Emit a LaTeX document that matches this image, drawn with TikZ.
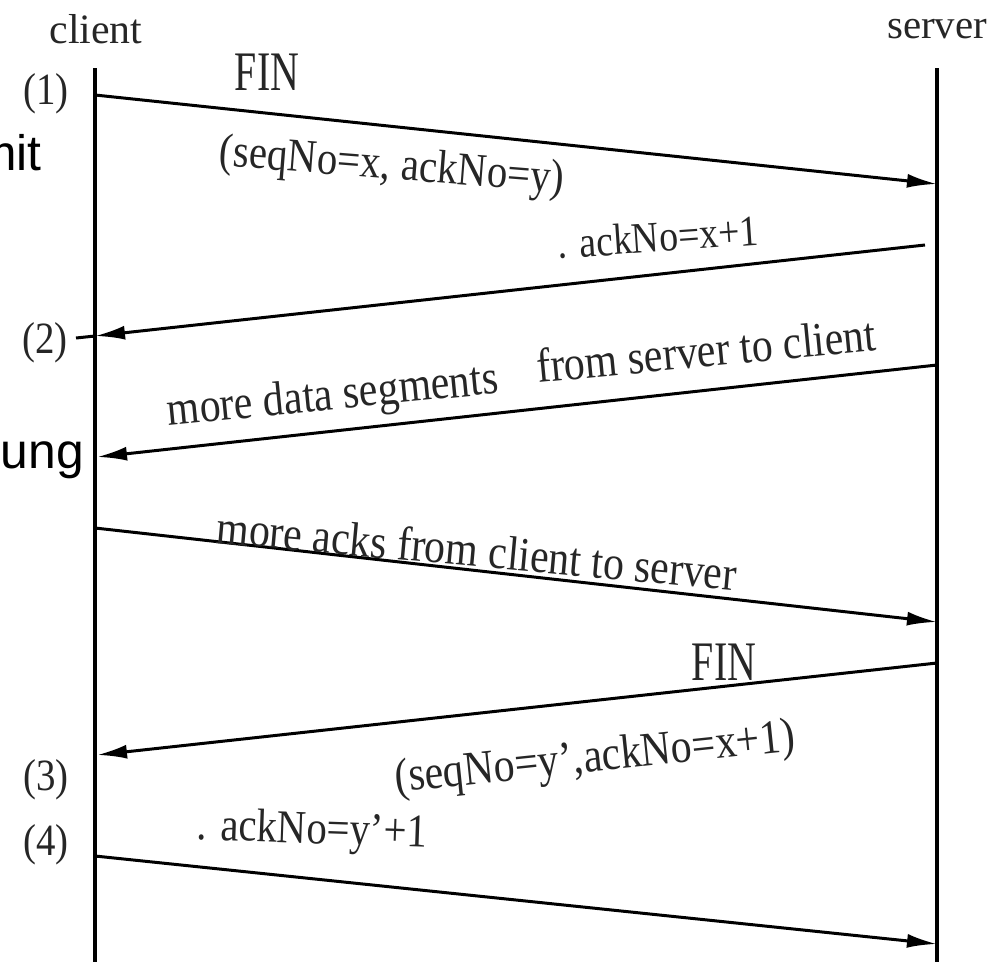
\documentclass[tikz,border=0pt]{standalone}
\usepackage{fontspec}
\setmainfont{Liberation Serif}
\newfontfamily\arialf{Liberation Sans}
\usetikzlibrary{arrows.meta}
\newcommand{\fsz}[1]{\fontsize{#1}{#1}\selectfont}
\newcommand{\vst}[2]{\scalebox{1}[#1]{#2}}
\begin{document}
\begin{tikzpicture}[x=1bp,y=-1bp,
  msg/.style={line width=3bp,-{Latex[length=30bp,width=14bp]}},
  life/.style={line width=3.5bp},
  lab/.style={inner sep=0pt,text=black!85},
  side/.style={inner sep=0pt,text=black,font=\arialf\fsz{50}}]
\useasboundingbox (0,0) rectangle (993,962);
\clip (0,0) rectangle (993,962);
% lifelines
\coordinate (ctop) at (95,68);
\coordinate (cbot) at (95,962);
\coordinate (stop) at (937,68);
\coordinate (sbot) at (937,962);
\draw[life] (ctop) -- (cbot);
\draw[life] (stop) -- (sbot);
% headers
\node[lab,font=\fsz{42}] (client) at (96,29) {client};
\node[lab,font=\fsz{41}] (server) at (937,29) {server};
% step numbers
\node[lab,font=\fsz{39}] (n1) at (46,94) {\vst{1.15}{(1)}};
\node[lab,font=\fsz{39}] (n2) at (45,343) {\vst{1.15}{(2)}};
\node[lab,font=\fsz{39}] (n3) at (46,780) {\vst{1.15}{(3)}};
\node[lab,font=\fsz{39}] (n4) at (46,845) {\vst{1.15}{(4)}};
% cut-off slide text
\node[side,anchor=base east] (mit) at (42,170) {mit};
\node[side,anchor=base east] (ung) at (84,468) {ung};
% message end points
\coordinate (a1s) at (95,95);   \coordinate (a1e) at (937,184);
\coordinate (a2s) at (925,245); \coordinate (a2e) at (95,336);
\coordinate (a2x) at (76,338);
\coordinate (a3s) at (937,365); \coordinate (a3e) at (97,457);
\coordinate (a4s) at (95,528);  \coordinate (a4e) at (937,622);
\coordinate (a5s) at (937,663); \coordinate (a5e) at (97,755);
\coordinate (a6s) at (95,856);  \coordinate (a6e) at (937,944);
\draw[msg] (a1s) -- (a1e);
\draw[msg] (a2s) -- (a2e);
\draw[line width=3bp] (a2e) -- (a2x);
\draw[msg] (a3s) -- (a3e);
\draw[msg] (a4s) -- (a4e);
\draw[msg] (a5s) -- (a5e);
\draw[msg] (a6s) -- (a6e);
% labels
\node[lab,font=\fsz{40}] (fin1) at (267,72) {\vst{1.4}{FIN}};
\node[lab,font=\fsz{41},rotate=-4.5] (seq1) at (392,168) {\vst{1.15}{(seqNo=x, ackNo=y)}};
\node[lab,font=\fsz{38},rotate=4] (ackx) at (658,237) {\vst{1.15}{. ackNo=x+1}};
\node[lab,font=\fsz{42},rotate=5.6] (mds) at (333,398) {\vst{1.15}{more data segments}};
\node[lab,font=\fsz{42},rotate=5.5] (fsc) at (706,350) {\vst{1.15}{from server to client}};
\node[lab,font=\fsz{42},rotate=-5.2] (mac) at (477,550) {\vst{1.15}{more acks from client to server}};
\node[lab,font=\fsz{40}] (fin2) at (724,662) {\vst{1.4}{FIN}};
\node[lab,font=\fsz{42},rotate=6] (seq2) at (595,760) {\vst{1.15}{(seqNo=y',ackNo=x+1)}};
\node[lab,font=\fsz{41},rotate=-2] (acky) at (312,832) {\vst{1.15}{. ackNo=y'+1}};
\end{tikzpicture}
\end{document}
